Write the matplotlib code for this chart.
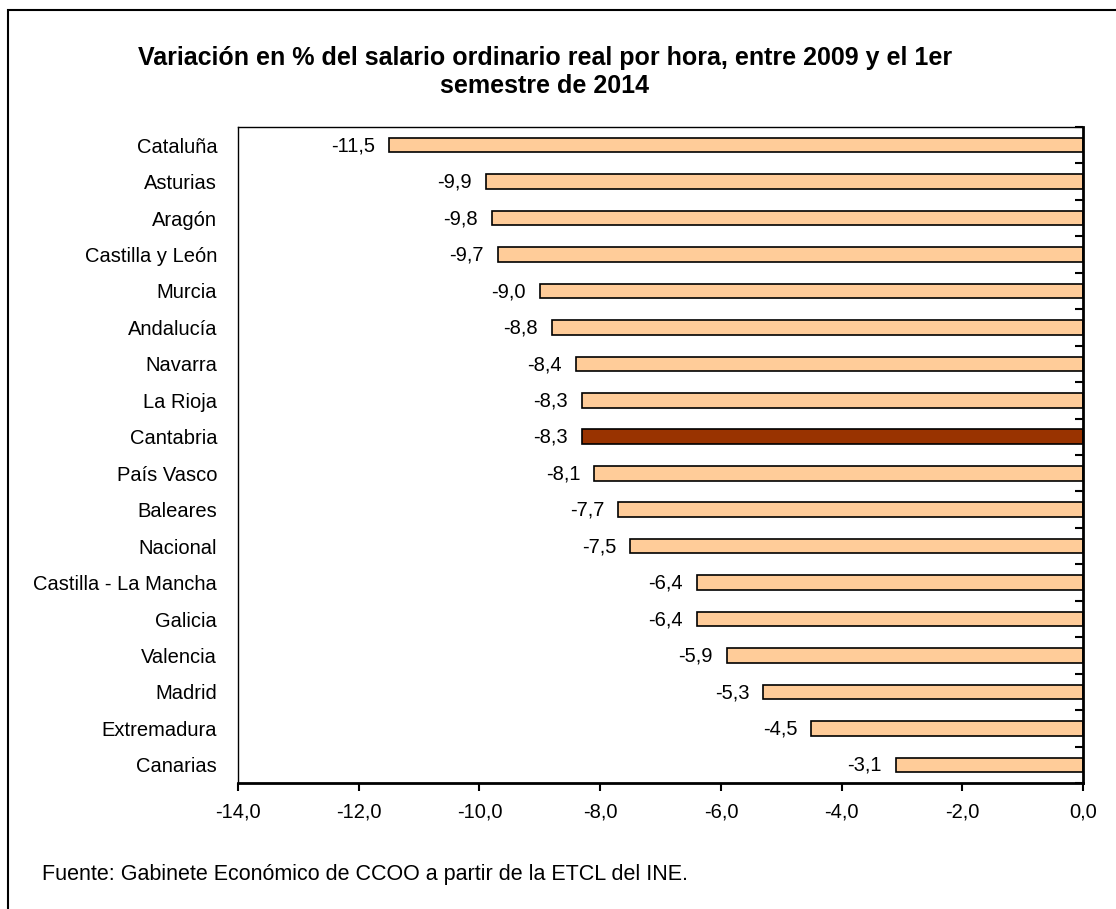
import numpy as np
import matplotlib.pyplot as plt
from matplotlib.patches import Rectangle

plt.rcParams['font.family'] = ['Liberation Sans', 'DejaVu Sans']

# Regions, top to bottom
regiones = ["Cataluña", "Asturias", "Aragón", "Castilla y León", "Murcia",
            "Andalucía", "Navarra", "La Rioja", "Cantabria", "País Vasco",
            "Baleares", "Nacional", "Castilla - La Mancha", "Galicia",
            "Valencia", "Madrid", "Extremadura", "Canarias"]
variacion = [-11.5, -9.9, -9.8, -9.7, -9.0, -8.8, -8.4, -8.3, -8.3, -8.1,
             -7.7, -7.5, -6.4, -6.4, -5.9, -5.3, -4.5, -3.1]
destacada = "Cantabria"

xticks = [-14, -12, -10, -8, -6, -4, -2, 0]

color_base = "#FFCC99"
color_destacada = "#993300"


def coma(v):
    return f"{v:.1f}".replace(".", ",")


fig = plt.figure(figsize=(11.16, 9.09), dpi=100)
ax = fig.add_axes([0.2133, 0.1386, 0.7572, 0.7217])

n = len(regiones)
ypos = np.arange(n)
colores = [color_destacada if r == destacada else color_base for r in regiones]
ax.barh(ypos, variacion, height=0.4, color=colores, edgecolor="black",
        linewidth=1.2)

for y, v in zip(ypos, variacion):
    ax.annotate(coma(v), xy=(v, y), xytext=(-10, -0.5), textcoords="offset points",
                ha="right", va="center", fontsize=14.5)

ax.set_xlim(-14, 0)
ax.set_ylim(n - 0.5, -0.5)
ax.set_xticks(xticks)
ax.set_xticklabels([coma(t) for t in xticks], fontsize=14.5)
ax.tick_params(axis="x", direction="out", length=6, width=1.5, pad=8)

ax.set_yticks(ypos)
ax.set_yticklabels(regiones, fontsize=14.5)
ax.tick_params(axis="y", which="major", length=0, pad=15)
ax.set_yticks(np.arange(-0.5, n, 1), minor=True)
ax.tick_params(axis="y", which="minor", left=False, right=True,
               direction="in", length=6, width=1.5)

for side in ("left", "top"):
    ax.spines[side].set_linewidth(1.0)
for side in ("right", "bottom"):
    ax.spines[side].set_linewidth(2.0)

fig.text(0.488, 0.921, "Variación en % del salario ordinario real por hora, entre 2009 y el 1er\nsemestre de 2014",
         ha="center", va="center", fontsize=18, fontweight="bold",
         linespacing=1.22)
fig.text(0.038, 0.038, "Fuente: Gabinete Económico de CCOO a partir de la ETCL del INE.",
         ha="left", va="center", fontsize=15.5)

# outer chart border
fig.patches.append(Rectangle((0.0072, -0.1), 1.1, 1.089, transform=fig.transFigure,
                             fill=False, edgecolor="black", linewidth=1.5,
                             clip_on=False))

fig.savefig("out.png", dpi=100)
